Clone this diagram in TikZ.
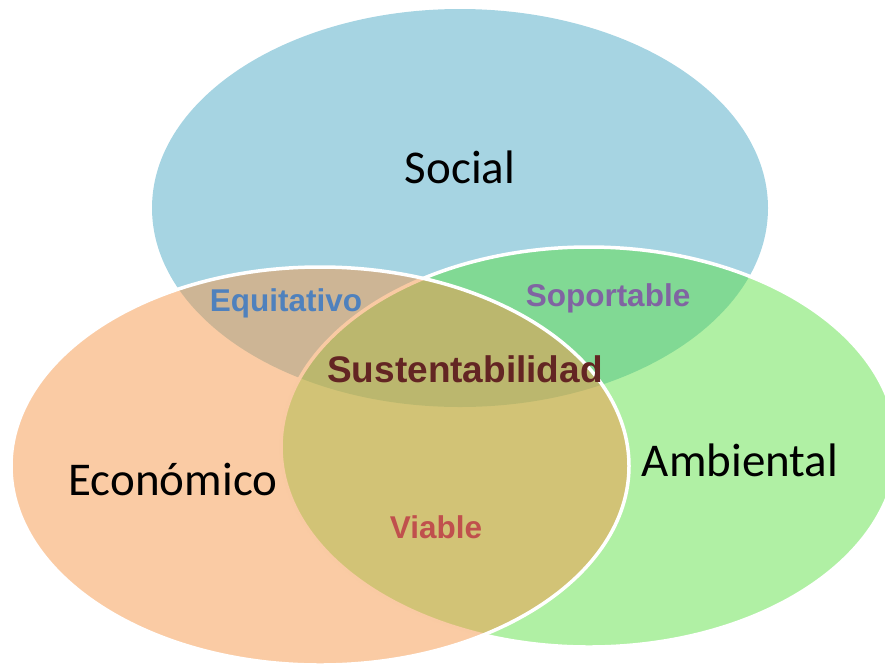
\documentclass[tikz,border=0pt]{standalone}
\usepackage{fontspec}
\setmainfont{Carlito}
\newfontfamily\joinfont{Liberation Sans}
\definecolor{socialblue}{RGB}{166,212,226}
\definecolor{econorange}{RGB}{245,151,73}
\definecolor{ambgreen}{RGB}{90,224,65}
\definecolor{equiblue}{RGB}{79,129,189}
\definecolor{soporpurple}{RGB}{128,100,162}
\definecolor{viablered}{RGB}{192,80,77}
\definecolor{sustred}{RGB}{99,37,35}
\tikzset{
    sphere/.style={draw=white, line width=3.5pt, fill opacity=.5},
    mainlabel/.style={anchor=base, inner sep=0pt,
        font=\fontsize{47}{56}\selectfont},
    joinlabel/.style={anchor=base, inner sep=0pt,
        font=\joinfont\bfseries\fontsize{31.5}{38}\selectfont},
}
\begin{document}
\begin{tikzpicture}[x=1pt, y=-1pt]
            \useasboundingbox (0, 0) rectangle (885, 665);
            \clip (0, 0) rectangle (885, 665);
            \coordinate (socialc) at (460, 208);
            \coordinate (ambc) at (589, 447);
            \coordinate (econc) at (320, 466);
            % the three spheres, social at the bottom
            \fill[socialblue] (socialc) ellipse [x radius=308pt, y radius=199pt];
            \draw[sphere, fill=ambgreen, fill opacity=.48] (ambc)
                ellipse [x radius=308pt, y radius=200pt];
            \draw[sphere, fill=econorange] (econc)
                ellipse [x radius=309pt, y radius=199pt];
            \node[mainlabel] (social) at (460, 183) {Social};
            \node[mainlabel] (econ) at (173, 495) {Económico};
            \node[mainlabel] (amb) at (740, 476) {Ambiental};
            \node[joinlabel, text=equiblue] (equi) at (286, 311) {Equitativo};
            \node[joinlabel, text=soporpurple] (sopor) at (608, 306) {Soportable};
            \node[joinlabel, text=viablered] (viable) at (436, 538) {Viable};
            \node[joinlabel, text=sustred, font=\joinfont\bfseries\fontsize{37}{44}\selectfont]
                (sust) at (465, 382) {Sustentabilidad};
        \end{tikzpicture}
\end{document}
